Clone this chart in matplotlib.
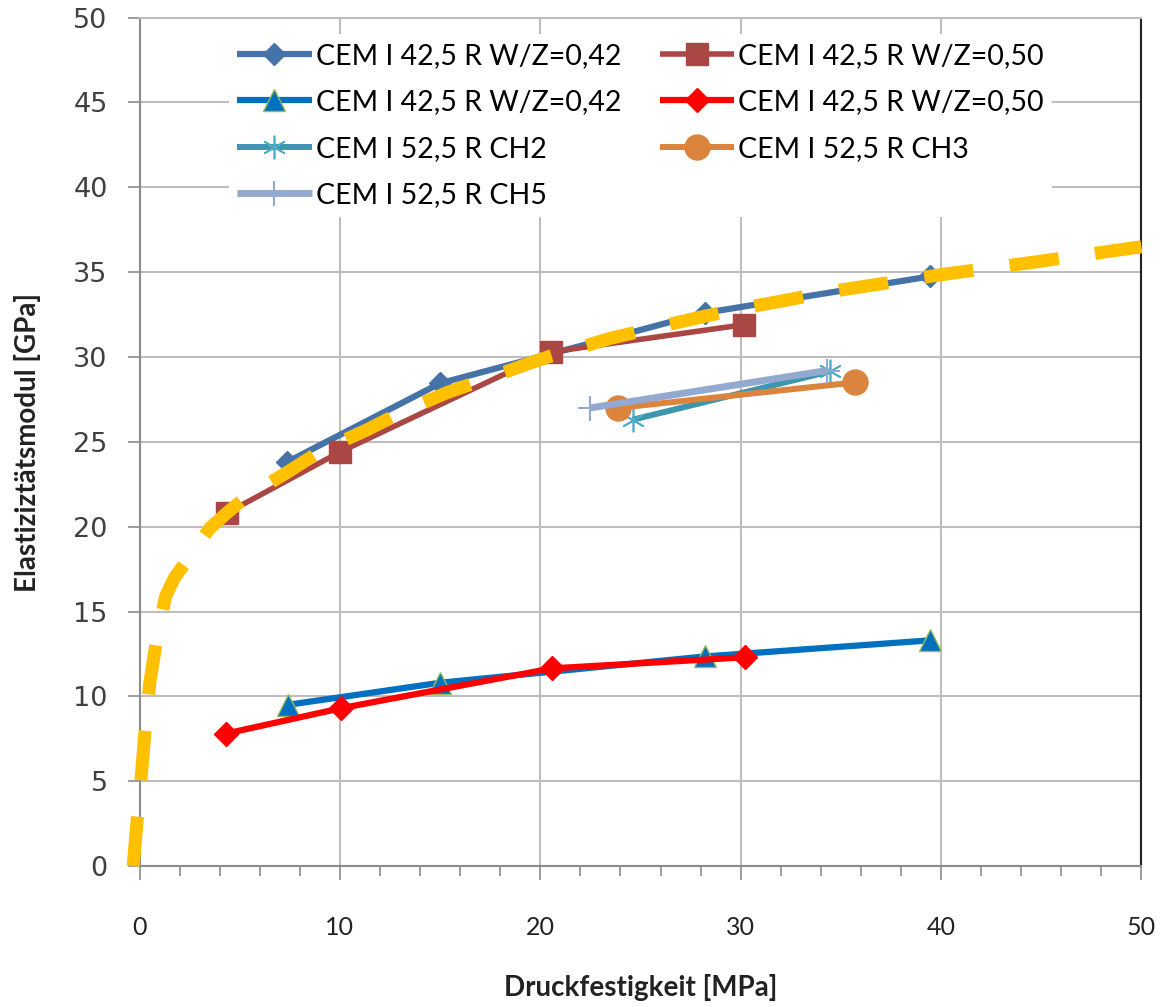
import matplotlib.pyplot as plt
from matplotlib.ticker import MultipleLocator

# Druckfestigkeit [MPa] vs. Elastizitaetsmodul [GPa]
x_a = [7.35, 15.0, 28.2, 39.45]
y_a = [23.8, 28.45, 32.6, 34.75]
x_b = [4.35, 10.0, 20.55, 30.15]
y_b = [20.8, 24.4, 30.3, 31.9]
x_c = [7.4, 15.0, 28.2, 39.45]
y_c = [9.5, 10.8, 12.35, 13.3]
x_d = [4.3, 10.05, 20.6, 30.2]
y_d = [7.8, 9.3, 11.65, 12.3]
x_ch2 = [24.6, 34.45]
y_ch2 = [26.3, 29.15]
x_ch3 = [23.9, 35.7]
y_ch3 = [27.0, 28.5]
x_ch5 = [22.5, 34.3]
y_ch5 = [27.0, 29.2]

# yellow dashed curve, traced point by point
trend_x = [-0.32, -0.12, 0.1, 0.27, 0.5, 0.82, 1.3, 1.75, 2.3, 3.5, 4.35, 5.27,
           7.43, 9.1, 11.34, 13.0, 15.34, 17.16, 19.5, 20.5, 23.5, 26.0, 28.0,
           30.0, 35.0, 40.0, 45.0, 50.0]
trend_y = [0.0, 2.7, 5.5, 7.9, 10.7, 13.1, 15.9, 17.0, 17.9, 19.9, 20.8, 21.7,
           23.25, 24.5, 25.7, 26.7, 27.9, 28.65, 29.65, 30.05, 31.1, 31.8, 32.35,
           32.85, 33.95, 34.85, 35.65, 36.5]

labels = ["CEM I 42,5 R W/Z=0,42", "CEM I 42,5 R W/Z=0,50",
          "CEM I 42,5 R W/Z=0,42", "CEM I 42,5 R W/Z=0,50",
          "CEM I 52,5 R CH2", "CEM I 52,5 R CH3", "CEM I 52,5 R CH5"]

fig = plt.figure(figsize=(11.63, 10.07), dpi=100)
ax = fig.add_axes([0.12, 0.14, 0.8615, 0.8425])

la, = ax.plot(x_a, y_a, color='#4572A7', lw=4.5, marker='D', ms=11,
              solid_capstyle='butt', label=labels[0], zorder=3)
lb, = ax.plot(x_b, y_b, color='#AA4643', lw=4.0, marker='s', ms=16.5,
              solid_capstyle='butt', label=labels[1], zorder=3)
lc, = ax.plot(x_c, y_c, color='#0070C0', lw=4.5, marker='^', ms=15.5,
              mec='#9BBB59', mew=1, solid_capstyle='butt', label=labels[2], zorder=3)
ld, = ax.plot(x_d, y_d, color='#FF0000', lw=4.5, marker='D', ms=12.5,
              solid_capstyle='butt', label=labels[3], zorder=3)
l2, = ax.plot(x_ch2, y_ch2, color='#3D96AE', lw=4.3, marker=(6, 2, 0), ms=17,
              mec='#4BACC6', mew=1.2, solid_capstyle='butt', label=labels[4], zorder=3)
l3, = ax.plot(x_ch3, y_ch3, color='#DB843D', lw=4.3, marker='o', ms=18,
              solid_capstyle='butt', label=labels[5], zorder=3)
l5, = ax.plot(x_ch5, y_ch5, color='#93A9CF', lw=5.0, marker='+', ms=18,
              mec='#93A9CF', mew=1.5, solid_capstyle='butt', label=labels[6], zorder=3)

ax.plot(trend_x, trend_y, color='#FFC000', lw=9.4, linestyle=(0, (3.8, 2.8)),
        dash_capstyle='butt', clip_on=False, zorder=5)

ax.set_xlim(0, 50)
ax.set_ylim(0, 50)
ax.xaxis.set_major_locator(MultipleLocator(10))
ax.xaxis.set_minor_locator(MultipleLocator(2))
ax.yaxis.set_major_locator(MultipleLocator(5))
ax.grid(True, which='major', color='#BEBEBE', lw=1.5, zorder=0)
ax.set_axisbelow(True)

for s in ['left', 'bottom', 'top']:
    ax.spines[s].set_color('#8C8C8C')
    ax.spines[s].set_linewidth(1.5)
ax.spines['top'].set_color('#BEBEBE')
ax.spines['right'].set_color('#222222')
ax.spines['right'].set_linewidth(1.5)

ax.tick_params(axis='y', which='major', direction='out', length=9, width=1.2,
               color='#8C8C8C', pad=14, labelsize=19.5, labelcolor='#404040')
ax.tick_params(axis='x', which='major', direction='out', length=10, width=1.2,
               color='#8C8C8C', pad=26, labelsize=18, labelcolor='#222222')
ax.tick_params(axis='x', which='minor', direction='out', length=7, width=1.2,
               color='#8C8C8C')
for t in ax.get_xticklabels():
    t.set_family('Lato')
for t in ax.get_yticklabels():
    t.set_family('DejaVu Sans')

fig.text(0.551, 0.019, "Druckfestigkeit [MPa]", family='Lato', weight='bold',
         fontsize=20, ha='center', va='center', color='#222222')
fig.text(0.0236, 0.561, "Elastiziztätsmodul [GPa]", family='Lato', weight='bold',
         fontsize=20, ha='center', va='center', rotation=90, color='#222222')

handles = [la, lc, l2, l5, lb, ld, l3]
leg = ax.legend(handles=handles, labels=[h.get_label() for h in handles],
                ncol=2, loc='upper left', bbox_to_anchor=(0.075, 0.997),
                prop={'family': 'Lato', 'size': 20.5}, frameon=True,
                facecolor='white', edgecolor='none', framealpha=1,
                fancybox=False, numpoints=1, handlelength=2.6,
                handletextpad=0.15, columnspacing=1.35, labelspacing=0.72,
                borderpad=0.3)
leg.set_zorder(6)

fig.savefig('out.png', dpi=100)
